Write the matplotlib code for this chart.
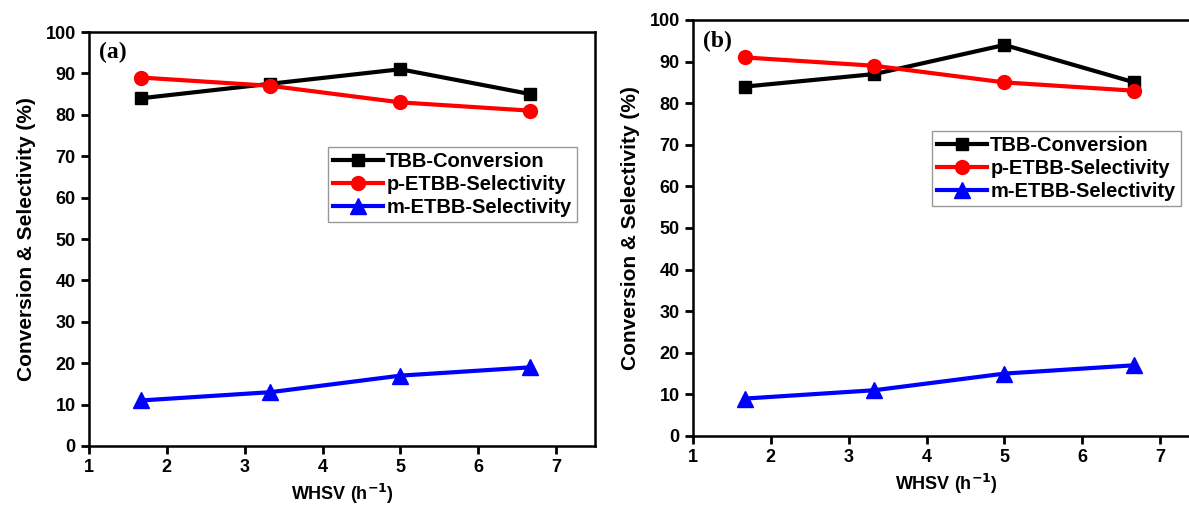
import matplotlib
matplotlib.use("Agg")
import matplotlib.pyplot as plt

whsv = [1.67, 3.33, 5.0, 6.67]
tbb_a = [84, 87.5, 91, 85]
p_a = [89, 87, 83, 81]
m_a = [11, 13, 17, 19]
tbb_b = [84, 87, 94, 85]
p_b = [91, 89, 85, 83]
m_b = [9, 11, 15, 17]
labels = ["TBB-Conversion", "p-ETBB-Selectivity", "m-ETBB-Selectivity"]
xticks = [1, 2, 3, 4, 5, 6, 7]
yticks = list(range(0, 101, 10))

plt.rcParams['font.family'] = ['Liberation Sans', 'DejaVu Sans']
plt.rcParams['font.weight'] = 'bold'

fig = plt.figure(figsize=(11.89, 5.05), dpi=100)
axa = fig.add_axes([89/1189, 59/505, 506/1189, 414/505])
axb = fig.add_axes([693/1189, 69/505, 506/1189, 416/505])

def draw(ax, tbb, p, m, tag, leg_y):
    ax.plot(whsv, tbb, color='black', marker='s', ms=9, lw=3, label=labels[0])
    ax.plot(whsv, p, color='red', marker='o', ms=10, lw=3, label=labels[1])
    ax.plot(whsv, m, color='blue', marker='^', ms=11, lw=3, label=labels[2])
    ax.set_xlim(1, 7.5)
    ax.set_ylim(0, 100)
    ax.set_xticks(xticks)
    ax.set_yticks(yticks)
    ax.tick_params(direction='out', length=6, width=2, labelsize=13, top=False, right=False)
    for s in ax.spines.values():
        s.set_linewidth(1.8)
    ax.set_xlabel('WHSV (h$^{\\mathbf{-1}}$)', fontsize=13, fontweight='bold', labelpad=4)
    ax.set_ylabel('Conversion & Selectivity (%)', fontsize=15, fontweight='bold', labelpad=7)
    ax.text(0.02, 0.975, tag, transform=ax.transAxes, ha='left', va='top',
            fontsize=17, fontweight='bold', family='Liberation Serif')
    leg = ax.legend(loc='upper left', bbox_to_anchor=(0.472, leg_y), borderaxespad=0,
                    fontsize=14.5, handlelength=2.5, handletextpad=0.15, borderpad=0.25,
                    labelspacing=0.2, fancybox=False, framealpha=1)
    leg.get_frame().set_edgecolor('#999999')
    leg.get_frame().set_linewidth(1)
    for t in leg.get_texts():
        t.set_fontweight('bold')

draw(axa, tbb_a, p_a, m_a, '(a)', 0.722)
draw(axb, tbb_b, p_b, m_b, '(b)', 0.733)

fig.savefig('out.png', dpi=100)
